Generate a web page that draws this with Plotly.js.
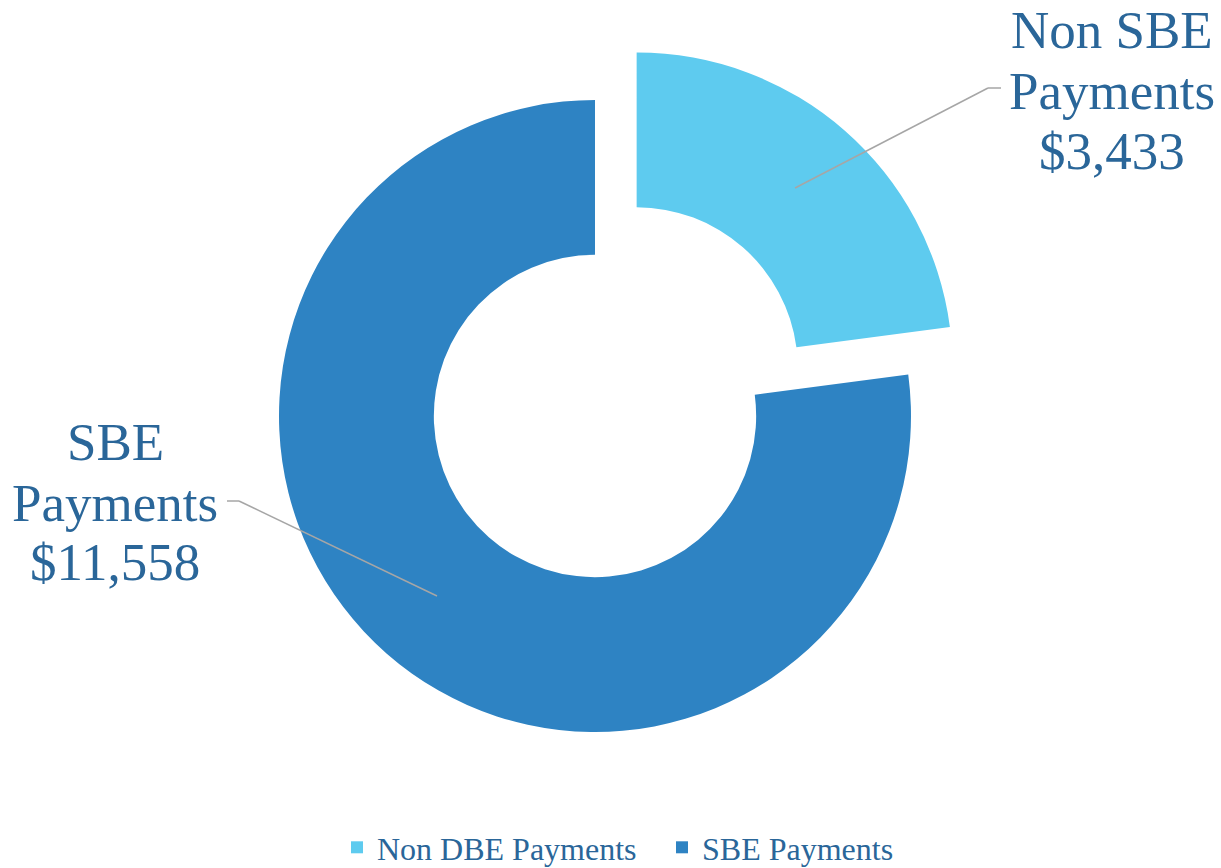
<!DOCTYPE html>
<html>
<head>
<meta charset="utf-8">
<script src="https://cdn.plot.ly/plotly-3.0.1.min.js"></script>
<style>html,body{margin:0;padding:0;background:#fff;}#chart{width:1221px;height:868px;}</style>
</head>
<body>
<div id="chart"></div>
<script>
// Data
const categories = ['Non DBE Payments', 'SBE Payments'];
const values = [3433, 11558];
const labelLines = [['Non SBE', 'Payments', '$3,433'], ['SBE', 'Payments', '$11,558']];
const colors = ['#5ECBEF', '#2E83C3'];

const W = 1221, H = 868;
const px = x => x / W;
const py = y => 1 - y / H;
const FONT = "'Liberation Serif', 'Times New Roman', serif";
const TXT = '#2A6699';

const trace = {
  type: 'pie',
  labels: categories,
  values: values,
  sort: false,
  direction: 'clockwise',
  rotation: 0,
  hole: 0.51,
  pull: [0.2, 0],
  marker: {colors: colors, line: {width: 0}},
  textinfo: 'none',
  hoverinfo: 'label+value',
  domain: {x: [0.17674, 0.79787], y: [0.08387, 0.95760]}
};

// label positions (pixel centres of each text line)
const labelPos = [
  {x: 1112, ys: [30, 91, 151]},
  {x: 115, ys: [442, 503, 562]}
];
const annotations = [];
labelLines.forEach((lines, i) => {
  lines.forEach((t, j) => {
    annotations.push({
      text: t, xref: 'paper', yref: 'paper',
      x: px(labelPos[i].x), y: py(labelPos[i].ys[j]),
      xanchor: 'center', yanchor: 'middle', showarrow: false,
      font: {family: FONT, size: 53, color: TXT}
    });
  });
});

const leader = (pts) => pts.slice(1).map((p, k) => ({
  type: 'line', xref: 'paper', yref: 'paper',
  x0: px(pts[k][0]), y0: py(pts[k][1]), x1: px(p[0]), y1: py(p[1]),
  line: {color: '#A6A6A6', width: 1.5}
}));
const shapes = [
  ...leader([[795, 188], [988, 88], [1001, 88]]),
  ...leader([[437, 596], [239, 501], [227, 501]])
];

const layout = {
  width: W, height: H,
  margin: {l: 0, r: 0, t: 0, b: 0, autoexpand: false},
  paper_bgcolor: '#ffffff',
  showlegend: true,
  legend: {
    orientation: 'h', x: px(337), xanchor: 'left', y: -7 / H, yanchor: 'bottom',
    font: {family: FONT, size: 32, color: TXT},
    entrywidth: 280, entrywidthmode: 'pixels',
    traceorder: 'normal'
  },
  annotations: annotations,
  shapes: shapes
};

Plotly.newPlot('chart', [trace], layout, {displayModeBar: false, staticPlot: true});
</script>
</body>
</html>
